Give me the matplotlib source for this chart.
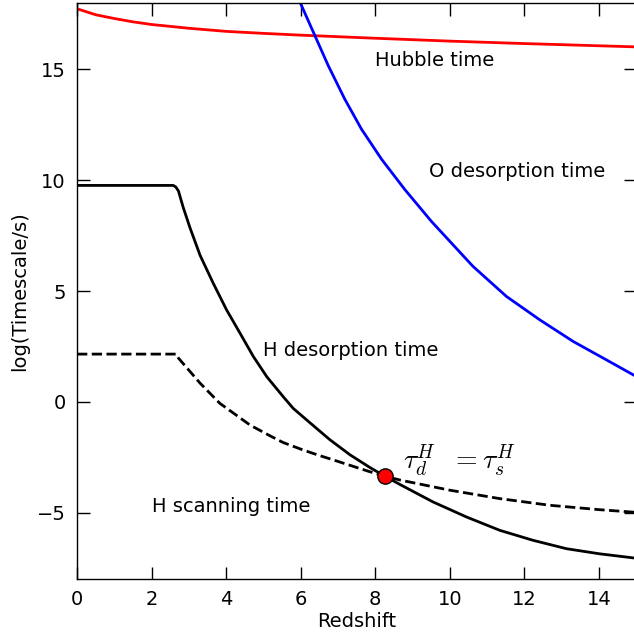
import numpy as np
import matplotlib
matplotlib.use('Agg')
import matplotlib.pyplot as plt

plt.rcParams['mathtext.fontset'] = 'cm'

# Hubble time (red)
z_hubble = [0, 0.5, 1, 1.5, 2, 3, 4, 5, 6, 8, 10, 12, 14, 15]
t_hubble = [17.74, 17.47, 17.30, 17.15, 17.03, 16.86, 16.72, 16.63, 16.55, 16.41, 16.28, 16.17, 16.07, 16.02]

# O desorption time (blue)
z_odes = [5.98, 6.38, 6.74, 7.18, 7.63, 8.17, 8.79, 9.51, 10.62, 11.52, 12.41, 13.31, 14.2, 15.0]
t_odes = [18.04, 16.53, 15.17, 13.67, 12.31, 10.95, 9.59, 8.14, 6.12, 4.76, 3.71, 2.73, 1.90, 1.15]

# H desorption time (black solid)
z_hdes = [0, 2.58, 2.65, 2.72, 2.85, 3.03, 3.30, 3.65, 4.01, 4.37, 4.73, 5.09, 5.53, 5.80,
          6.25, 6.78, 7.32, 7.86, 8.26, 8.66, 9.55, 10.45, 11.34, 12.23, 13.13, 14.02, 15.0]
t_hdes = [9.77, 9.77, 9.70, 9.52, 8.77, 7.86, 6.62, 5.37, 4.16, 3.11, 2.05, 1.14, 0.24, -0.29,
          -0.94, -1.70, -2.38, -2.96, -3.35, -3.72, -4.51, -5.19, -5.79, -6.24, -6.62, -6.85, -7.05]

# H scanning time (black dashed)
z_hscan = [0, 2.67, 2.72, 3.30, 3.83, 4.64, 5.17, 5.53, 6.07, 6.51, 6.96, 7.86, 8.26, 8.66,
           10.0, 11.34, 12.68, 14.02, 15.0]
t_hscan = [2.16, 2.16, 1.98, 0.85, -0.06, -1.04, -1.52, -1.83, -2.17, -2.42, -2.66, -3.15, -3.35, -3.52,
           -3.98, -4.36, -4.66, -4.86, -4.98]

# crossing point
z_cross = [8.26]
t_cross = [-3.35]

fig = plt.figure(figsize=(6.34, 6.38), dpi=100)
ax = fig.add_axes([0.1215, 0.092, 0.882, 0.9033])

ax.plot(z_hubble, t_hubble, color='red', lw=2)
ax.plot(z_odes, t_odes, color='blue', lw=2)
ax.plot(z_hdes, t_hdes, color='black', lw=2)
ax.plot(z_hscan, t_hscan, color='black', lw=2, ls='--')
ax.plot(z_cross, t_cross, 'o', color='red', mec='black', ms=11, zorder=5)

ax.text(8.0, 15.4, 'Hubble time', fontsize=14, va='center')
ax.text(9.45, 10.4, 'O desorption time', fontsize=14, va='center')
ax.text(5.0, 2.3, 'H desorption time', fontsize=14, va='center')
ax.text(2.0, -4.7, 'H scanning time', fontsize=14, va='center')
ax.text(8.75, -2.65, r'$\tau_d^H\ \ =\tau_s^H$', fontsize=20, va='center')

ax.set_xlim(0, 15)
ax.set_ylim(-8, 18)
ax.set_xticks([0, 2, 4, 6, 8, 10, 12, 14])
ax.set_yticks([-5, 0, 5, 10, 15])
ax.set_yticklabels(['\u22125', '0', '5', '10', '15'])
ax.tick_params(direction='in', length=9, width=1, labelsize=14, top=True, right=True, pad=8)
for s in ax.spines.values():
    s.set_linewidth(1)

ax.set_xlabel('Redshift', fontsize=14, labelpad=2)
ax.set_ylabel('log(Timescale/s)', fontsize=14, labelpad=6)

fig.savefig('out.png', dpi=100)
